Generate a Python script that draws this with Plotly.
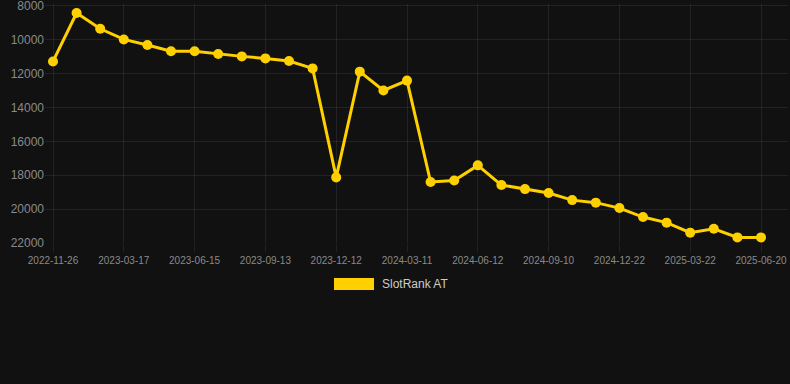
import plotly.graph_objects as go

dates = [
    "2022-11-26", "2023-01-02", "2023-02-08",
    "2023-03-17", "2023-04-16", "2023-05-16",
    "2023-06-15", "2023-07-15", "2023-08-14",
    "2023-09-13", "2023-10-13", "2023-11-12",
    "2023-12-12", "2024-01-11", "2024-02-10",
    "2024-03-11", "2024-04-11", "2024-05-12",
    "2024-06-12", "2024-07-12", "2024-08-11",
    "2024-09-10", "2024-10-14", "2024-11-18",
    "2024-12-22", "2025-01-21", "2025-02-20",
    "2025-03-22", "2025-04-21", "2025-05-21",
    "2025-06-20",
]
ranks = [
    11290, 8430, 9360,
    9990, 10320, 10690,
    10690, 10850, 10990,
    11110, 11260, 11700,
    18130, 11890, 13000,
    12420, 18400, 18310,
    17420, 18580, 18820,
    19050, 19470, 19620,
    19940, 20470, 20800,
    21390, 21160, 21670,
    21670,
]
tick_labels = dates[::3]
y_ticks = [8000, 10000, 12000, 14000, 16000, 18000, 20000, 22000]
y_tick_text = [str(v) for v in y_ticks]
series_name = "SlotRank AT"

color = "#FFD000"
grid = "rgba(255,255,255,0.075)"

fig = go.Figure()
fig.add_trace(go.Scatter(
    x=dates, y=ranks, mode="lines+markers", name=series_name,
    line=dict(color=color, width=3),
    marker=dict(color=color, size=10),
    showlegend=False,
))

fig.update_layout(
    width=790, height=384,
    margin=dict(l=45, r=2, t=4, b=141),
    paper_bgcolor="#111111", plot_bgcolor="#111111",
    font=dict(family="Liberation Sans, Arial, sans-serif", color="#8a8a8a"),
    xaxis=dict(
        type="category", range=[-0.339, 31.144],
        tickmode="array", tickvals=tick_labels, ticktext=tick_labels,
        tickfont=dict(size=10, color="#8a8a8a"),
        showgrid=True, gridcolor=grid, gridwidth=1,
        ticks="outside", ticklen=8, tickcolor=grid,
        showline=False, zeroline=False,
        ticklabeloverflow="allow", automargin=False,
    ),
    yaxis=dict(
        range=[22000, 7900], tickmode="array",
        tickvals=y_ticks, ticktext=y_tick_text,
        tickfont=dict(size=12, color="#8a8a8a"),
        showgrid=True, gridcolor=grid, gridwidth=1,
        ticks="", showline=False, zeroline=False,
        ticklabeloverflow="allow", automargin=False,
    ),
    shapes=[dict(
        type="rect", xref="paper", yref="paper",
        x0=(334 - 45) / 743, x1=(374 - 45) / 743,
        y0=(243 - 290) / 239, y1=(243 - 278) / 239,
        fillcolor=color, line=dict(width=0),
    )],
    annotations=[dict(
        text=series_name, xref="paper", yref="paper",
        x=(380 - 45) / 743, y=(243 - 284) / 239,
        xanchor="left", yanchor="middle", showarrow=False,
        font=dict(size=12, color="#cccccc"),
    )],
)

fig.write_html(
    "out.html",
    config={"displayModeBar": False},
    post_script="document.body.style.margin='0';document.body.style.overflow='hidden';document.body.style.background='#111111';",
)
